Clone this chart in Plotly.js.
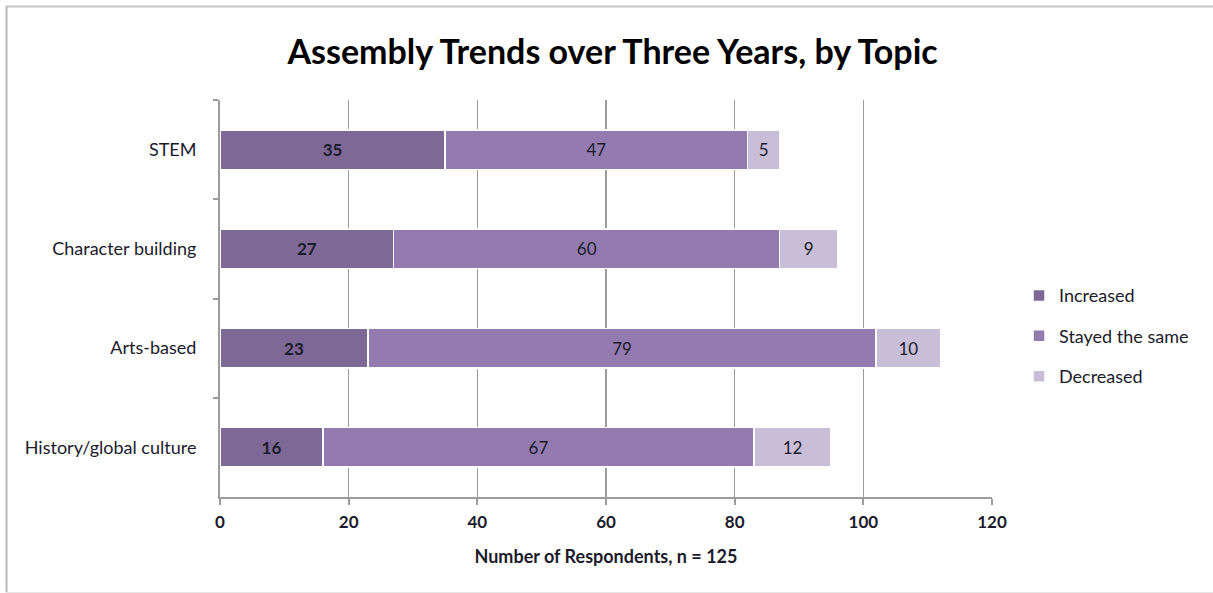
<!DOCTYPE html>
<html>
<head>
<meta charset="utf-8">
<script src="https://cdn.plot.ly/plotly-3.0.1.min.js"></script>
<style>html,body{margin:0;padding:0;background:#fff}#chart{width:1213px;height:593px}</style>
</head>
<body>
<div id="chart"></div>
<script>
var categories = ["STEM", "Character building", "Arts-based", "History/global culture"];
var increased = [35, 27, 23, 16];
var stayedSame = [47, 60, 79, 67];
var decreased = [5, 9, 10, 12];
var seriesNames = ["Increased", "Stayed the same", "Decreased"];
var xTicks = [0, 20, 40, 60, 80, 100, 120];

var FONT = "Lato, 'Open Sans', sans-serif";
var TXT = "#1b1b2b";

function mk(vals, name, color, bold, grp) {
  return {
    type: "bar", orientation: "h",
    y: categories, x: vals, name: name,
    legendgroup: grp,
    marker: {color: color, line: {color: "#ffffff", width: 1.5}},
    text: vals.map(String),
    texttemplate: bold ? "<b>%{x}</b>" : "%{x}",
    textposition: "inside", insidetextanchor: "middle",
    textfont: {family: FONT, size: 17, color: TXT},
    constraintext: "none",
    hoverinfo: "x+name"
  };
}

var data = [
  mk(increased, seriesNames[0], "#7e6896", true, "a"),
  mk(stayedSame, seriesNames[1], "#937bb0", false, "b"),
  mk(decreased, seriesNames[2], "#c8bed7", false, "c")
];

var layout = {
  width: 1213, height: 593,
  margin: {l: 220, r: 221, t: 100, b: 96},
  paper_bgcolor: "#ffffff", plot_bgcolor: "#ffffff",
  barmode: "stack", bargap: 0.6,
  font: {family: FONT, color: TXT, size: 18},
  title: {
    text: "<b>Assembly Trends over Three Years, by Topic</b>",
    font: {family: FONT, size: 34, color: "#000"},
    x: 0.505, xanchor: "center", y: 0.912, yanchor: "middle", xref: "container", yref: "container"
  },
  xaxis: {
    range: [0, 120], tickvals: xTicks, ticktext: xTicks.map(String),
    showgrid: true, gridcolor: "#9c9c9c", gridwidth: 1.2,
    showline: true, linecolor: "#9c9c9c", linewidth: 2,
    ticks: "outside", ticklen: 6, tickcolor: "#9c9c9c", tickwidth: 2,
    tickfont: {family: FONT, size: 17, color: TXT, weight: "bold"},
    ticklabelstandoff: 3,
    zeroline: false,
    title: {text: "<b>Number of Respondents, n = 125</b>", font: {family: FONT, size: 18, color: TXT}, standoff: 19}
  },
  yaxis: {
    type: "category", autorange: "reversed",
    showgrid: false, showline: true, linecolor: "#9c9c9c", linewidth: 2,
    ticks: "outside", ticklen: 5, tickcolor: "#9c9c9c", tickwidth: 2,
    tickson: "boundaries",
    tickfont: {family: FONT, size: 18, color: TXT},
    ticklabelstandoff: 18
  },
  legend: {
    x: 1.035, xanchor: "left", y: 0.405, yanchor: "middle",
    traceorder: "grouped", tracegroupgap: 14,
    font: {family: FONT, size: 18, color: TXT},
    bgcolor: "rgba(0,0,0,0)", itemwidth: 30
  },
  shapes: [
    {type: "line", xref: "paper", yref: "paper", x0: -0.277, x1: 1.3, y0: 1.2355, y1: 1.2355, line: {color: "#c4c4c4", width: 2}},
    {type: "line", xref: "paper", yref: "paper", x0: -0.2765, x1: -0.2765, y0: 1.2355, y1: -0.24, line: {color: "#b8b8b8", width: 2}},
    {type: "line", xref: "paper", yref: "paper", x0: -0.277, x1: 1.3, y0: -0.2405, y1: -0.2405, line: {color: "#e6e6e6", width: 1}}
  ],
  showlegend: true
};

Plotly.newPlot("chart", data, layout, {displayModeBar: false, staticPlot: true});
</script>
</body>
</html>
